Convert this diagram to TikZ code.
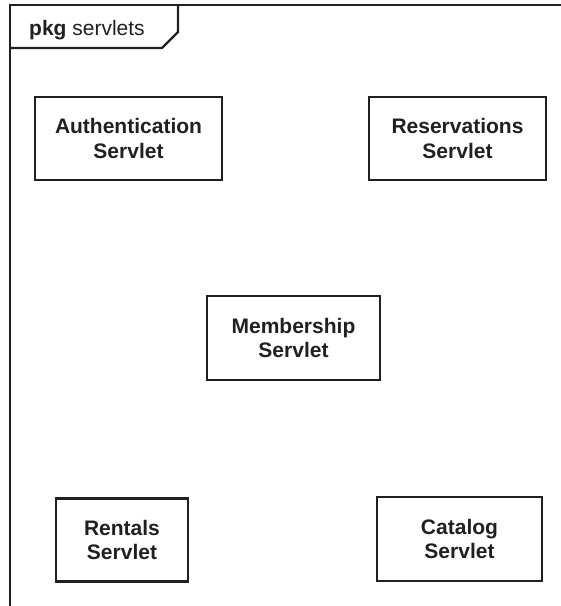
\documentclass[tikz,border=0pt]{standalone}
\usepackage{fontspec}
\setmainfont{Liberation Sans}
\usepackage{tikz}
\usetikzlibrary{positioning}
\definecolor{Ink}{HTML}{231F20}

\begin{document}
\begin{tikzpicture}[x=1pt,y=-1pt,
    servlet/.style={draw=Ink,text=Ink,line width=2.6pt,align=center,inner sep=0pt,
      font=\fontsize{21}{24.5}\selectfont\bfseries},
    frameline/.style={draw=Ink,line width=2.2pt}
  ]
    \useasboundingbox (0,0) rectangle (561,606);
    % package frame and its tab
    \draw[frameline] (561,5) -- (10,5) -- (10,606);
    \draw[frameline] (10,48) -- (162,48) -- (178,32) -- (178,5);
    \node[anchor=base west,inner sep=0pt,text=Ink,font=\fontsize{21}{24}\selectfont] (tab) at (29,35)
      {\textbf{pkg} servlets};
    % servlets
    \node[servlet,minimum width=187pt,minimum height=83pt] (auth) at (128.5,138.5)
      {Authentication\\Servlet};
    \node[servlet,minimum width=177pt,minimum height=83pt] (reserv) at (457.5,138.5)
      {Reservations\\Servlet};
    \node[servlet,minimum width=173pt,minimum height=84pt] (member) at (293.5,338)
      {Membership\\Servlet};
    \node[servlet,minimum width=132pt,minimum height=83pt] (rental) at (122,540)
      {Rentals\\Servlet};
    \node[servlet,minimum width=165pt,minimum height=84pt] (catalog) at (459.5,539)
      {Catalog\\Servlet};
\end{tikzpicture}
\end{document}
